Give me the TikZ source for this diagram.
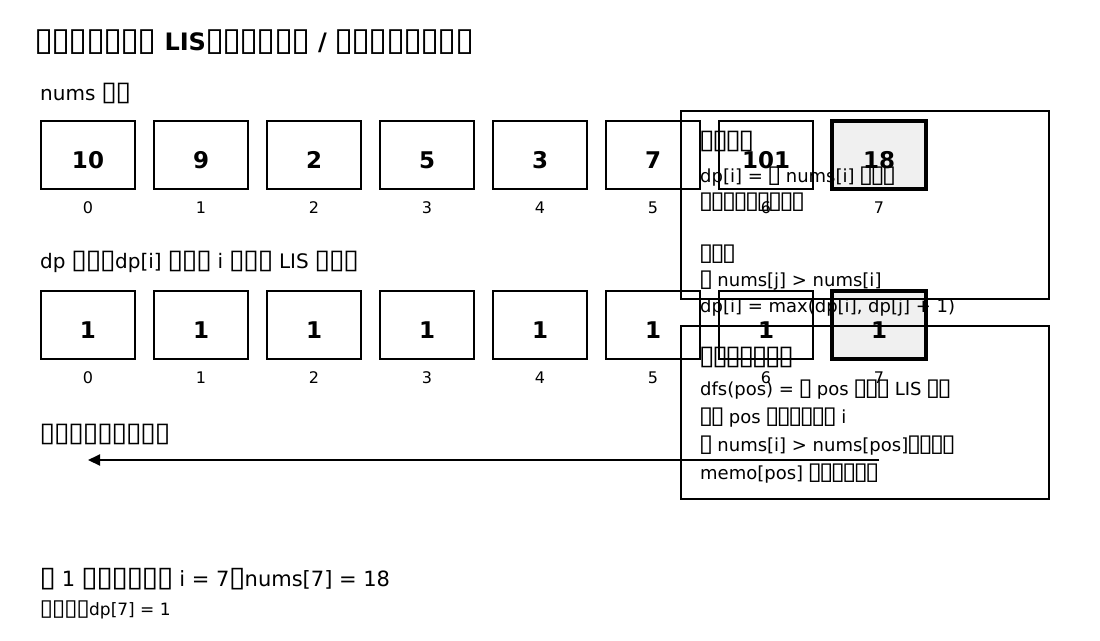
\documentclass[tikz,border=0pt]{standalone}
\usepackage{fontspec}
\usepackage{graphicx}
\setmainfont{DejaVu Sans}
\usetikzlibrary{arrows.meta}
\definecolor{hl}{HTML}{F0F0F0}
\def\tfw{0.72em}
\catcode`▯=\active
\protected\def▯{\makebox[\tfw]{\scalebox{1.45}[1.35]{\char"25AF}}}
\begin{document}
\begin{tikzpicture}[x=1pt,y=-1pt,
  cell/.style={draw=black,line width=2pt,minimum width=94pt,minimum height=68pt,inner sep=0pt},
  cellhl/.style={cell,fill=hl,line width=4pt},
  num/.style={anchor=base,inner sep=0pt,font=\fontsize{23}{23}\selectfont\bfseries},
  idx/.style={anchor=base,inner sep=0pt,font=\fontsize{16}{16}\selectfont},
  ttl/.style={anchor=base west,inner sep=0pt,font=\fontsize{24}{24}\selectfont\bfseries},
  lbl/.style={anchor=base west,inner sep=0pt,font=\fontsize{20}{20}\selectfont},
  small/.style={anchor=base west,inner sep=0pt,font=\fontsize{17}{17}\selectfont},
  ptext/.style={anchor=base west,inner sep=0pt,font=\fontsize{18}{18}\selectfont\def\tfw{0.64em}},
  panel/.style={draw=black,line width=2pt},
  arr/.style={line width=2pt,-{Triangle[length=12pt,width=11pt]}}]
\useasboundingbox (0,0) rectangle (1100,640);
\node[ttl] (title) at (35,50) {▯▯▯▯▯▯▯ LIS▯▯▯▯▯▯ / ▯▯▯▯▯▯▯▯};
\node[lbl] (numslbl) at (40,100) {nums ▯▯};
\foreach \v [count=\k from 0] in {10,9,2,5,3,7,101} {
  \node[cell] (n\k) at (88+113*\k,155) {};
  \node[num] (nv\k) at (88+113*\k,168) {\v};
  \node[idx] (ni\k) at (88+113*\k,213) {\k};
}
\node[cellhl] (n7) at (879,155) {};
\node[num] (nv7) at (879,168) {18};
\node[idx] (ni7) at (879,213) {7};
\node[lbl] (dplbl) at (40,268) {dp ▯▯▯dp[i] ▯▯▯ i ▯▯▯ LIS ▯▯▯};
\foreach \k in {0,...,6} {
  \node[cell] (d\k) at (88+113*\k,325) {};
  \node[num] (dv\k) at (88+113*\k,338) {1};
  \node[idx] (di\k) at (88+113*\k,383) {\k};
}
\node[cellhl] (d7) at (879,325) {};
\node[num] (dv7) at (879,338) {1};
\node[idx] (di7) at (879,383) {7};
\node[lbl] (arrlbl) at (40,441) {▯▯▯▯▯▯▯▯▯};
\coordinate (arrS) at (879,460);
\coordinate (arrE) at (88,460);
\draw[arr] (arrS) -- (arrE);
\node[lbl,font=\fontsize{21}{21}\selectfont] (step) at (40,586) {▯ 1 ▯▯▯▯▯▯ i = 7▯nums[7] = 18};
\node[small] (init) at (40,615) {▯▯▯▯dp[7] = 1};
% panel 1
\node[panel,minimum width=368pt,minimum height=188pt,inner sep=0pt] (p1) at (865,205) {};
\node[lbl,font=\fontsize{20}{20}\selectfont\def\tfw{0.66em}] (p1t) at (700,148) {▯▯▯▯};
\node[ptext] (p1a) at (700,182) {dp[i] = ▯ nums[i] ▯▯▯};
\node[ptext] (p1b) at (700,208) {▯▯▯▯▯▯▯▯▯};
\node[ptext] (p1c) at (700,260) {▯▯▯};
\node[ptext] (p1d) at (700,286) {▯ nums[j] > nums[i]};
\node[ptext] (p1e) at (700,312) {dp[i] = max(dp[i], dp[j] + 1)};
% panel 2
\node[panel,minimum width=368pt,minimum height=173pt,inner sep=0pt] (p2) at (865,412.5) {};
\node[lbl,font=\fontsize{20}{20}\selectfont\def\tfw{0.66em}] (p2t) at (700,364) {▯▯▯▯▯▯▯};
\node[ptext] (p2a) at (700,395) {dfs(pos) = ▯ pos ▯▯▯ LIS ▯▯};
\node[ptext] (p2b) at (700,423) {▯▯ pos ▯▯▯▯▯▯ i};
\node[ptext] (p2c) at (700,451) {▯ nums[i] > nums[pos]▯▯▯▯};
\node[ptext] (p2d) at (700,479) {memo[pos] ▯▯▯▯▯▯};
\end{tikzpicture}
\end{document}
